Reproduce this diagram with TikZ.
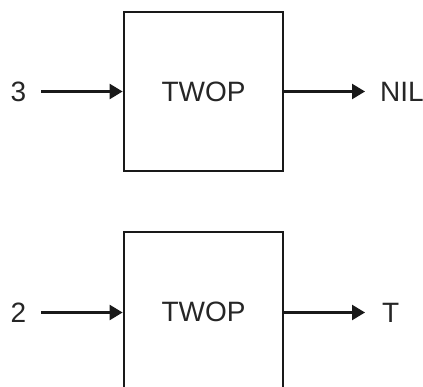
\documentclass[tikz,border=0pt]{standalone}
\usepackage{fontspec}
\setmainfont{Liberation Sans}
\usetikzlibrary{arrows.meta}
\begin{document}
\begin{tikzpicture}[x=1pt,y=-1pt,
  fnbox/.style={draw=black!90, line width=2.8pt, minimum width=159pt, minimum height=159pt, inner sep=0pt, font=\fontsize{28}{28}\selectfont, text=black!85},
  lbl/.style={inner sep=0pt, font=\fontsize{28}{28}\selectfont, text=black!85},
  arr/.style={draw=black!90, line width=2.4pt, -{Triangle[length=13pt,width=15pt]}}]
\useasboundingbox (0,0) rectangle (423,387);
\clip (0,0) rectangle (423,387);
% top
\node[fnbox] (b1) at (203.5,91.5) {TWOP};
\node[lbl, anchor=center] (i1) at (18.5,91.5) {3};
\node[lbl, anchor=west] (o1) at (380,91.5) {NIL};
\draw[arr] ([xshift=15pt]i1.east) -- (b1.west);
\draw[arr] (b1.east) -- ([xshift=-15pt]o1.west);
% bottom
\node[fnbox] (b2) at (203.5,311.5) {TWOP};
\node[lbl, anchor=center] (i2) at (18.5,312.5) {2};
\node[lbl, anchor=west] (o2) at (382,312.5) {T};
\draw[arr] ([xshift=15pt]i2.east) -- (b2.west |- i2);
\draw[arr] (b2.east |- o2) -- ([xshift=-17pt]o2.west);
\end{tikzpicture}
\end{document}
